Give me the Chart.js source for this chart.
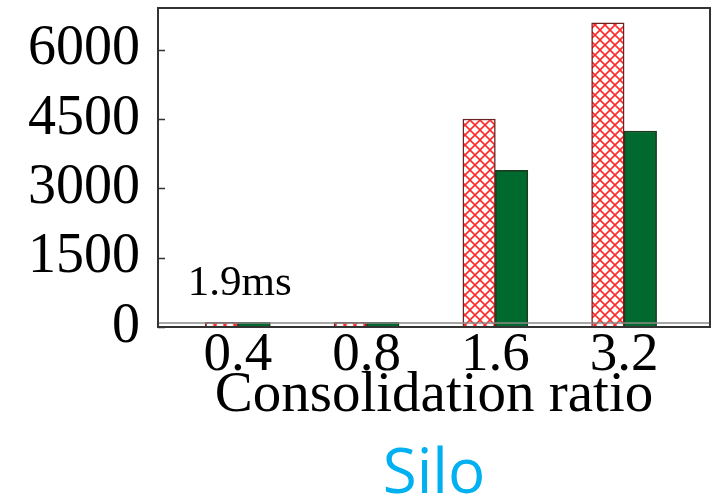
<!DOCTYPE html>
<html>
<head>
<meta charset="utf-8">
<script src="https://cdn.jsdelivr.net/npm/chart.js@4/dist/chart.umd.min.js"></script>
<style>
  html, body { margin: 0; padding: 0; background: #fff; }
  #wrap { width: 718px; height: 499px; }
</style>
</head>
<body>
<div id="wrap"><canvas id="silo"></canvas></div>
<script>
const categories = ['0.4', '0.8', '1.6', '3.2'];
const hatchedValues = [100, 100, 4500, 6580];
const solidValues = [100, 100, 3390, 4240];
const yTicks = [0, 1500, 3000, 4500, 6000];
const baselineValue = 85;
const noteText = '1.9ms';
const noteAt = { x: 0, y: 690 };

// red cross-hatch fill
function makeHatch() {
  const n = 10;
  const c = document.createElement('canvas');
  c.width = n;
  c.height = n;
  const g = c.getContext('2d');
  g.fillStyle = '#fff';
  g.fillRect(0, 0, n, n);
  g.strokeStyle = '#ff2a2a';
  g.lineWidth = 1.6;
  g.beginPath();
  g.moveTo(-1, -1); g.lineTo(n + 1, n + 1);
  g.moveTo(-1, n + 1); g.lineTo(n + 1, -1);
  g.stroke();
  return g.createPattern(c, 'repeat');
}

const framePlugin = {
  id: 'frame',
  afterDatasetsDraw(chart) {
    const { ctx, chartArea: a, scales } = chart;
    ctx.save();
    ctx.strokeStyle = '#333';
    ctx.lineWidth = 2;
    ctx.strokeRect(a.left, a.top, a.right - a.left, a.bottom - a.top);
    // inward tick marks on the y axis
    ctx.lineWidth = 1.5;
    ctx.beginPath();
    scales.y.ticks.forEach(t => {
      const py = Math.round(scales.y.getPixelForValue(t.value)) + 0.5;
      ctx.moveTo(a.left, py);
      ctx.lineTo(a.left + 7, py);
    });
    ctx.stroke();
    ctx.fillStyle = '#000';
    ctx.font = '43px "Liberation Serif"';
    ctx.textAlign = 'center';
    ctx.textBaseline = 'alphabetic';
    ctx.fillText(noteText, scales.x.getPixelForValue(noteAt.x) + 2, scales.y.getPixelForValue(noteAt.y));
    ctx.restore();
  }
};

const serif = '"Liberation Serif", "Times New Roman", serif';

new Chart(document.getElementById('silo'), {
  type: 'bar',
  data: {
    datasets: [
      {
        label: 'hatched',
        data: hatchedValues.map((v, i) => ({ x: i, y: v })),
        backgroundColor: makeHatch(),
        borderColor: '#6a2222',
        borderWidth: 1.5,
        barThickness: 32.5,
        order: 2
      },
      {
        label: 'solid',
        data: solidValues.map((v, i) => ({ x: i, y: v })),
        backgroundColor: '#006a2e',
        borderColor: '#1b3a1f',
        borderWidth: 1.5,
        barThickness: 32.5,
        order: 2
      },
      {
        type: 'line',
        label: 'baseline',
        data: [{ x: -0.62, y: baselineValue }, { x: 3.667, y: baselineValue }],
        borderColor: '#8a8a8a',
        borderWidth: 1.5,
        pointRadius: 0,
        order: 1
      }
    ]
  },
  options: {
    responsive: true,
    maintainAspectRatio: false,
    animation: false,
    layout: { padding: { top: 8, right: 8, left: 0, bottom: 0 } },
    plugins: {
      legend: { display: false },
      tooltip: { enabled: false },
      title: {
        display: true,
        fullSize: false,
        position: 'bottom',
        text: 'Silo',
        color: '#00b0f0',
        font: { family: '"Open Sans", sans-serif', size: 62, weight: 'normal', lineHeight: 1 },
        padding: { top: 11, bottom: -7 }
      }
    },
    scales: {
      x: {
        type: 'linear',
        offset: false,
        min: -0.62,
        max: 3.667,
        grid: { display: false },
        border: { display: false },
        ticks: {
          stepSize: 1,
          includeBounds: false,
          autoSkip: false,
          maxRotation: 0,
          padding: -7,
          color: '#000',
          font: { family: serif, size: 55, lineHeight: 1 },
          callback: v => categories[v]
        },
        title: {
          display: true,
          text: 'Consolidation ratio',
          color: '#000',
          font: { family: serif, size: 57, lineHeight: 1 },
          padding: { top: 0, bottom: 8 }
        },
        afterFit: s => { s.height = 106; s.paddingLeft = 0; s.paddingRight = 0; }
      },
      y: {
        min: 0,
        max: 6900,
        grid: { display: false },
        border: { display: false },
        afterBuildTicks: s => { s.ticks = yTicks.map(v => ({ value: v })); },
        ticks: {
          padding: 10,
          color: '#000',
          font: { family: serif, size: 56, lineHeight: 1 },
          callback: v => String(v)
        },
        afterFit: s => { s.width = 158; s.paddingTop = 0; s.paddingBottom = 0; }
      }
    }
  },
  plugins: [framePlugin]
});
</script>
</body>
</html>
